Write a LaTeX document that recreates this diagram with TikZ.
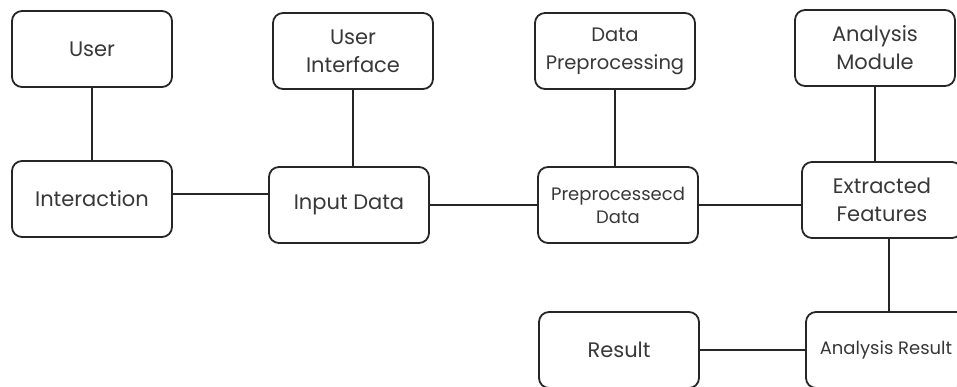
\documentclass[tikz,border=0pt]{standalone}
\usepackage{fontspec}
\setmainfont{Poppins}
\begin{document}
\begin{tikzpicture}[x=1pt,y=-1pt,
  box/.style={draw=black!85, line width=1.8pt, rounded corners=10pt,
    minimum width=160pt, minimum height=76pt, align=center, text=black!78,
    font=\fontsize{21}{28}\selectfont, inner sep=2pt},
  small/.style={font=\fontsize{18}{23}\selectfont},
  narrow/.style={font=\fontsize{19.5}{28}\selectfont},
  link/.style={draw=black!85, line width=1.8pt}]
\useasboundingbox (0,0) rectangle (957,387);
\clip (0,0) rectangle (957,387);
\node[box] (user) at (92,49) {User};
\node[box] (inter) at (92,199) {Interaction};
\node[box] (ui) at (353,51) {User\\Interface};
\node[box] (inp) at (349,205) {Input Data};
\node[box,narrow] (dp) at (615,51) {Data\\Preprocessing};
\node[box,small] (pd) at (618,205) {Preprocessecd\\Data};
\node[box] (am) at (875,48) {Analysis\\Module};
\node[box] (ef) at (882,200) {Extracted\\Features};
\node[box] (res) at (619,350) {Result};
\node[box,small] (ar) at (886,350) {Analysis Result};
\draw[link] (user.south) -- (user.south |- inter.north);
\draw[link] (ui.south) -- (ui.south |- inp.north);
\draw[link] (dp.south) -- (dp.south |- pd.north);
\draw[link] (am.south) -- (am.south |- ef.north);
\draw[link] ([xshift=7pt]ef.south) -- ([xshift=7pt]ef.south |- ar.north);
\draw[link] ([yshift=5pt]inter.east) -- ([yshift=5pt]inter.east -| inp.west);
\draw[link] (inp.east) -- (inp.east -| pd.west);
\draw[link] (pd.east) -- (pd.east -| ef.west);
\draw[link] (res.east) -- (ar.west);
\end{tikzpicture}
\end{document}
